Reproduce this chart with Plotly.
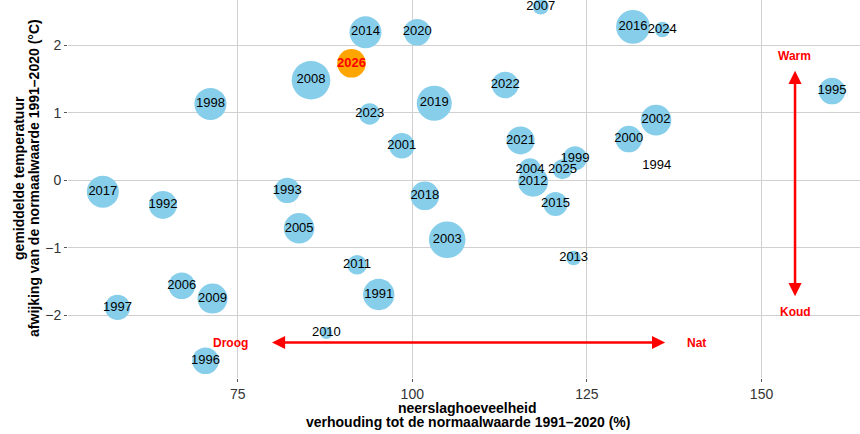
import plotly.graph_objects as go

# ---- data ----
jaren = [1991, 1992, 1993, 1994, 1995, 1996, 1997, 1998, 1999, 2000,
         2001, 2002, 2003, 2004, 2005, 2006, 2007, 2008, 2009, 2010,
         2011, 2012, 2013, 2014, 2015, 2016, 2017, 2018, 2019, 2020,
         2021, 2022, 2023, 2024, 2025, 2026]
neerslag = [95.2, 64.3, 82.1, 135.0, 160.1, 70.4, 57.8, 71.1, 123.3, 131.0,
            98.5, 134.9, 105.0, 116.85, 83.8, 67.0, 118.4, 85.5, 71.4, 87.7,
            92.1, 117.3, 123.1, 93.3, 120.5, 131.6, 55.7, 101.8, 103.15, 100.7,
            115.5, 113.3, 93.9, 135.8, 121.5, 91.3]
temperatuur = [-1.69, -0.365, -0.15, 0.21, 1.32, -2.67, -1.88, 1.13, 0.325, 0.61,
               0.51, 0.89, -0.88, 0.163, -0.71, -1.56, 2.57, 1.48, -1.75, -2.26,
               -1.25, -0.02, -1.15, 2.19, -0.35, 2.27, -0.17, -0.23, 1.14, 2.19,
               0.59, 1.41, 0.98, 2.23, 0.163, 1.73]
grootte = [24.6, 19.6, 16.1, 0.0, 17.7, 17.7, 16.1, 25.6, 14.4, 17.7,
           16.1, 23.4, 33.5, 12.1, 23.4, 17.7, 6.4, 37.2, 22.5, 3.6,
           9.6, 22.5, 5.3, 25.6, 14.4, 28.6, 25.6, 20.4, 30.6, 17.7,
           19.6, 17.7, 11.4, 5.9, 10.0, 20.4]
huidig_jaar = 2026

x_ticks = [75, 100, 125, 150]
y_ticks = [-2, -1, 0, 1, 2]

x_titel = ["neerslaghoeveelheid", "verhouding tot de normaalwaarde 1991\u20132020 (%)"]
y_titel = ["gemiddelde temperatuur", "afwijking van de normaalwaarde 1991\u20132020 (\u00b0C)"]

FONT = "Liberation Sans, Arial, sans-serif"

idx_rest = [i for i, j in enumerate(jaren) if j != huidig_jaar]
idx_now = [i for i, j in enumerate(jaren) if j == huidig_jaar]

fig = go.Figure()
fig.add_trace(go.Scatter(
    x=[neerslag[i] for i in idx_rest],
    y=[temperatuur[i] for i in idx_rest],
    text=[str(jaren[i]) for i in idx_rest],
    mode="markers+text",
    textposition="middle center",
    textfont=dict(family=FONT, size=13, color="#000000"),
    marker=dict(size=[grootte[i] for i in idx_rest], sizemode="area", sizeref=0.05,
                sizemin=0, color="#87CEEB", line=dict(width=0), opacity=1),
    hoverinfo="skip", showlegend=False,
))
fig.add_trace(go.Scatter(
    x=[neerslag[i] for i in idx_now],
    y=[temperatuur[i] for i in idx_now],
    text=["<b>%d</b>" % jaren[i] for i in idx_now],
    mode="markers+text",
    textposition="middle center",
    textfont=dict(family=FONT, size=13, color="#FF0000"),
    marker=dict(size=[grootte[i] for i in idx_now], sizemode="area", sizeref=0.05,
                color="#FFA500", line=dict(width=0), opacity=1),
    hoverinfo="skip", showlegend=False,
))

RED = "#FF0000"
# arrows
fig.add_annotation(x=136.2, y=-2.40, ax=79.7, ay=-2.40, xref="x", yref="y",
                   axref="x", ayref="y", text="", showarrow=True,
                   arrowhead=2, startarrowhead=2, arrowside="end+start",
                   arrowsize=1.05, startarrowsize=1.05, arrowwidth=2.5, arrowcolor=RED)
fig.add_annotation(x=154.8, y=1.62, ax=154.8, ay=-1.737, xref="x", yref="y",
                   axref="x", ayref="y", text="", showarrow=True,
                   arrowhead=2, startarrowhead=2, arrowside="end+start",
                   arrowsize=1.05, startarrowsize=1.05, arrowwidth=2.5, arrowcolor=RED)
for txt, xx, yy in [("Droog", 74.0, -2.40), ("Nat", 140.7, -2.40),
                    ("Warm", 154.75, 1.84), ("Koud", 154.8, -1.953)]:
    fig.add_annotation(x=xx, y=yy, xref="x", yref="y", text="<b>%s</b>" % txt,
                       showarrow=False, font=dict(family=FONT, size=12, color=RED),
                       xanchor="center", yanchor="middle")

# axis titles
for line, py in zip(x_titel, [408, 422]):
    fig.add_annotation(x=0.505, y=(378 - py) / 378, xref="paper", yref="paper",
                       text="<b>%s</b>" % line, showarrow=False,
                       font=dict(family=FONT, size=14, color="#000000"),
                       xanchor="center", yanchor="middle")
for line, px in zip(y_titel, [18.3, 33.3]):
    fig.add_annotation(x=(px - 68) / 792, y=0.530, xref="paper", yref="paper",
                       text="<b>%s</b>" % line, showarrow=False, textangle=-90,
                       font=dict(family=FONT, size=14, color="#000000"),
                       xanchor="center", yanchor="middle")

fig.update_xaxes(range=[50.71, 164.10], tickvals=x_ticks, showgrid=True,
                 gridcolor="#d0d0d0", gridwidth=1, zeroline=False, showline=False,
                 ticks="outside", ticklen=3, tickcolor="#555555", tickwidth=1,
                 tickfont=dict(family=FONT, size=14, color="#333333"))
fig.update_yaxes(range=[-2.925, 2.667], tickvals=y_ticks, showgrid=True,
                 gridcolor="#d0d0d0", gridwidth=1, zeroline=False, showline=False,
                 ticks="outside", ticklen=3, tickcolor="#555555", tickwidth=1,
                 tickfont=dict(family=FONT, size=14, color="#333333"))

fig.update_layout(width=860, height=434, margin=dict(l=68, r=0, t=0, b=56),
                  plot_bgcolor="white", paper_bgcolor="white",
                  font=dict(family=FONT), hovermode=False)

fig.write_html("out.html", config={"displayModeBar": False, "staticPlot": True},
               post_script="document.body.style.margin='0';document.body.style.overflow='hidden';")
